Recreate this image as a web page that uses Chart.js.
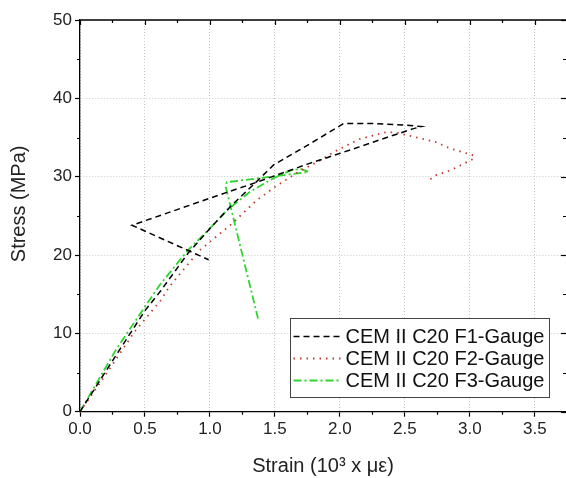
<!DOCTYPE html>
<html>
<head>
<meta charset="utf-8">
<script src="https://cdn.jsdelivr.net/npm/chart.js@4.4.0/dist/chart.umd.min.js"></script>
<style>
  html, body { margin: 0; padding: 0; background: #fff; }
  #wrap { width: 566px; height: 478px; }
</style>
</head>
<body>
<div id="wrap"><canvas id="myChart" width="566" height="478"></canvas></div>
<script>
// series labels
const seriesNames = ["CEM II C20 F1-Gauge", "CEM II C20 F2-Gauge", "CEM II C20 F3-Gauge"];

// F1 (black dashed)
const f1Strain = [0, 0.25, 0.5, 0.62, 0.83, 1.0, 1.17, 1.33, 1.49, 1.77, 2.03, 2.25, 2.49, 2.63, 2.56, 2.36, 2.15, 1.75, 1.31, 1.13, 0.40, 0.99];
const f1Stress = [0, 6.5, 12.9, 15.4, 20.2, 23.4, 26.4, 28.9, 31.5, 34.2, 36.8, 36.8, 36.6, 36.4, 36.1, 35.0, 33.8, 31.6, 29.0, 28.0, 23.8, 19.4];

// F2 (red dotted)
const f2Strain = [0, 0.2, 0.42, 0.62, 0.69, 0.92, 1.17, 1.36, 1.51, 1.69, 1.86, 1.97, 2.15, 2.36, 2.44, 2.62, 2.74, 2.85, 2.97, 3.03, 3.03, 2.85, 2.74, 2.69];
const f2Stress = [0, 4.8, 10.2, 14.2, 16.0, 20.6, 24.0, 27.0, 28.8, 30.7, 32.2, 33.3, 34.8, 35.7, 35.6, 34.9, 34.4, 33.6, 33.0, 32.7, 32.3, 30.8, 30.2, 29.6];

// F3 (green dash-dot)
const f3Strain = [0, 0.28, 0.5, 0.615, 0.83, 1.0, 1.13, 1.31, 1.49, 1.62, 1.70, 1.76, 1.13, 1.12, 1.37];
const f3Stress = [0, 8.0, 13.4, 16.2, 20.6, 23.4, 25.7, 28.1, 29.8, 30.8, 31.0, 30.6, 29.3, 28.8, 11.9];

// axes
const xTitle = "Strain (10\u00b3 x \u03bc\u03b5)";
const yTitle = "Stress (MPa)";
const xMin = 0, xMax = 3.74, xStep = 0.5, xMinor = 0.25;
const yMin = 0, yMax = 50, yStep = 10, yMinor = 5;

const toPoints = (xs, ys) => xs.map((x, i) => ({ x: x, y: ys[i] }));

Chart.defaults.font.family = "Arial, 'Liberation Sans', sans-serif";
Chart.defaults.color = "#222";

// frame on top/right, minor ticks, mirrored ticks, y title
const framePlugin = {
  id: "frame_ticks",
  afterDraw: (chart) => {
    const ctx = chart.ctx;
    const { left, right, top, bottom } = chart.chartArea;
    const xs = chart.scales.x;
    const ys = chart.scales.y;
    ctx.save();
    ctx.strokeStyle = "#000";
    ctx.lineWidth = 1.3;
    ctx.beginPath();
    ctx.moveTo(left, top);
    ctx.lineTo(right, top);
    ctx.stroke();
    ctx.lineWidth = 1.2;
    for (let v = xMin; v <= xMax + 1e-9; v += xMinor) {
      const px = Math.round(xs.getPixelForValue(v)) + 0.5;
      const major = Math.abs(v / xStep - Math.round(v / xStep)) < 1e-6;
      ctx.beginPath();
      if (!major) {
        ctx.moveTo(px, bottom);
        ctx.lineTo(px, bottom + 3);
      }
      ctx.moveTo(px, top);
      ctx.lineTo(px, top + (major ? 5 : 3));
      ctx.stroke();
    }
    for (let v = yMin; v <= yMax + 1e-9; v += yMinor) {
      const py = Math.round(ys.getPixelForValue(v)) + 0.5;
      const major = Math.abs(v / yStep - Math.round(v / yStep)) < 1e-6;
      ctx.beginPath();
      if (!major) {
        ctx.moveTo(left, py);
        ctx.lineTo(left - 3, py);
      }
      ctx.moveTo(right, py);
      ctx.lineTo(right - (major ? 5 : 3), py);
      ctx.stroke();
    }
    // y title, sits a bit above the plot middle in the original
    ctx.translate(19, (top + bottom) / 2 - 12);
    ctx.rotate(-Math.PI / 2);
    ctx.fillStyle = "#222";
    ctx.font = "20px Arial, 'Liberation Sans', sans-serif";
    ctx.textAlign = "center";
    ctx.textBaseline = "middle";
    ctx.fillText(yTitle, 0, 0);
    ctx.restore();
  },
};

// legend inside the plot, lower right
const innerLegend = {
  id: "inner_legend",
  afterDraw: (chart) => {
    const ctx = chart.ctx;
    const area = chart.chartArea;
    const boxW = 259, boxH = 79;
    const x0 = Math.round(area.right - 17 - boxW) + 0.5;
    const y0 = Math.round(area.bottom - 15 - boxH) + 0.5;
    ctx.save();
    ctx.fillStyle = "#fff";
    ctx.fillRect(x0, y0, boxW, boxH);
    ctx.strokeStyle = "#444";
    ctx.lineWidth = 1;
    ctx.strokeRect(x0, y0, boxW, boxH);
    chart.data.datasets.forEach((ds, i) => {
      const cy = y0 + 18 + i * 22;
      ctx.setLineDash(ds.borderDash);
      ctx.strokeStyle = ds.borderColor;
      ctx.lineWidth = ds.borderWidth;
      ctx.beginPath();
      ctx.moveTo(x0 + 3, cy);
      ctx.lineTo(x0 + 50, cy);
      ctx.stroke();
      ctx.setLineDash([]);
      ctx.fillStyle = "#111";
      ctx.font = "20px Arial, 'Liberation Sans', sans-serif";
      ctx.textBaseline = "middle";
      ctx.fillText(ds.label, x0 + 55, cy + 1);
    });
    ctx.restore();
  },
};

const data = {
  datasets: [
    {
      label: seriesNames[0],
      data: toPoints(f1Strain, f1Stress),
      borderColor: "#000000",
      borderWidth: 1.5,
      borderDash: [6, 4],
      pointRadius: 0,
      tension: 0,
    },
    {
      label: seriesNames[1],
      data: toPoints(f2Strain, f2Stress),
      borderColor: "#c0392b",
      borderWidth: 1.8,
      borderDash: [1.5, 5],
      pointRadius: 0,
      tension: 0,
    },
    {
      label: seriesNames[2],
      data: toPoints(f3Strain, f3Stress),
      borderColor: "#2fd42f",
      borderWidth: 1.8,
      borderDash: [8, 3, 2, 3],
      pointRadius: 0,
      tension: 0,
    },
  ],
};

const config = {
  type: "line",
  data: data,
  options: {
    responsive: false,
    animation: false,
    layout: { padding: { top: 20, right: 0, left: 0, bottom: 0 } },
    scales: {
      x: {
        type: "linear",
        min: xMin,
        max: xMax,
        afterFit: (scale) => { scale.height = 66.3; },
        ticks: {
          stepSize: xStep,
          includeBounds: false,
          padding: 2,
          color: "#222",
          font: { size: 17 },
          callback: (v) => v.toFixed(1),
        },
        grid: {
          color: "#c8c8c8",
          lineWidth: 1,
          tickLength: 5,
          tickColor: "#000",
          tickWidth: 1.2,
          tickBorderDash: [],
        },
        border: { display: true, color: "#000", width: 1.3, dash: [1, 2] },
        title: {
          display: true,
          text: xTitle,
          color: "#222",
          font: { size: 20 },
          padding: { top: 0, bottom: 0 },
        },
      },
      y: {
        type: "linear",
        min: yMin,
        max: yMax,
        afterFit: (scale) => { scale.width = 80; },
        ticks: {
          stepSize: yStep,
          padding: 3,
          color: "#222",
          font: { size: 17 },
        },
        grid: {
          color: "#c8c8c8",
          lineWidth: 1,
          tickLength: 5,
          tickColor: "#000",
          tickWidth: 1.2,
          tickBorderDash: [],
        },
        border: { display: true, color: "#000", width: 1.3, dash: [1, 2] },
      },
    },
    plugins: {
      legend: { display: false },
      tooltip: { enabled: false },
    },
  },
  plugins: [framePlugin, innerLegend],
};

const myChart = new Chart(document.getElementById("myChart"), config);
</script>
</body>
</html>
